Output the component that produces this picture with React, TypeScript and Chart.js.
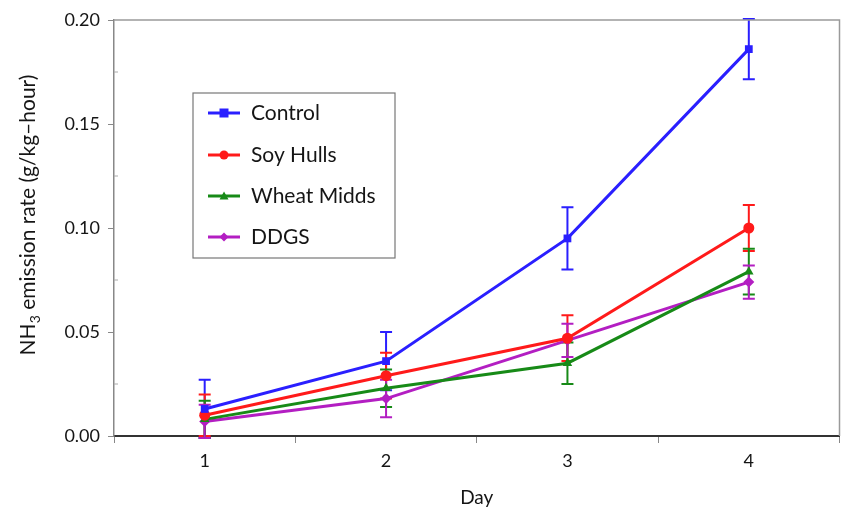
import React, { useEffect, useRef } from 'react';
import { Chart, registerables } from 'chart.js';

Chart.register(...registerables);

const days = ['1', '2', '3', '4'];
const seriesNames = ['Control', 'Soy Hulls', 'Wheat Midds', 'DDGS'];
const control = [0.013, 0.036, 0.095, 0.186];
const controlErr = [0.014, 0.014, 0.015, 0.0145];
const soyHulls = [0.010, 0.029, 0.047, 0.100];
const soyHullsErr = [0.010, 0.011, 0.011, 0.011];
const wheatMidds = [0.008, 0.023, 0.035, 0.079];
const wheatMiddsErr = [0.009, 0.009, 0.010, 0.011];
const ddgs = [0.007, 0.018, 0.046, 0.074];
const ddgsErr = [0.008, 0.009, 0.008, 0.008];
const yTicks = [0, 0.05, 0.1, 0.15, 0.2];
const yMinorTicks = [0.025, 0.075, 0.125, 0.175];
const yTitleMain = 'NH';
const yTitleSub = '3';
const yTitleRest = ' emission rate (g/kg–hour)';
const xTitle = 'Day';

const colors = ['#2a1fff', '#ff1a1a', '#178a17', '#b31ec2'];
const shapes = ['rect', 'circle', 'triangle', 'rectRot'];

const FONT = 'Lato, "Open Sans", "DejaVu Sans", sans-serif';
const TEXT = '#151515';

function drawMarker(ctx: CanvasRenderingContext2D, shape: string, x: number, y: number, r: number) {
  ctx.beginPath();
  if (shape === 'rect') {
    ctx.rect(x - r, y - r, 2 * r, 2 * r);
  } else if (shape === 'circle') {
    ctx.arc(x, y, r, 0, Math.PI * 2);
  } else if (shape === 'triangle') {
    ctx.moveTo(x, y - r);
    ctx.lineTo(x + r, y + r * 0.8);
    ctx.lineTo(x - r, y + r * 0.8);
    ctx.closePath();
  } else {
    ctx.moveTo(x, y - r);
    ctx.lineTo(x + r, y);
    ctx.lineTo(x, y + r);
    ctx.lineTo(x - r, y);
    ctx.closePath();
  }
  ctx.fill();
}

const errorBarsPlugin = {
  id: 'errorBars',
  beforeDatasetsDraw(chart: any) {
    const ctx = chart.ctx;
    const yScale = chart.scales.y;
    chart.data.datasets.forEach((ds: any, i: number) => {
      const meta = chart.getDatasetMeta(i);
      ctx.save();
      ctx.strokeStyle = ds.borderColor;
      ctx.lineWidth = 2;
      meta.data.forEach((pt: any, j: number) => {
        const v = ds.data[j];
        const e = ds.errors[j];
        const yTop = yScale.getPixelForValue(v + e);
        const yBot = yScale.getPixelForValue(v - e);
        const x = pt.x;
        ctx.beginPath();
        ctx.moveTo(x, yTop);
        ctx.lineTo(x, yBot);
        ctx.moveTo(x - 6, yTop);
        ctx.lineTo(x + 6, yTop);
        ctx.moveTo(x - 6, yBot);
        ctx.lineTo(x + 6, yBot);
        ctx.stroke();
      });
      ctx.restore();
    });
  },
};

const framePlugin = {
  id: 'frame',
  afterDraw(chart: any) {
    const ctx = chart.ctx;
    const a = chart.chartArea;
    const yScale = chart.scales.y;
    ctx.save();
    ctx.strokeStyle = '#9a9a9a';
    ctx.lineWidth = 1.5;
    ctx.beginPath();
    ctx.moveTo(a.left, a.top);
    ctx.lineTo(a.right, a.top);
    ctx.lineTo(a.right, a.bottom);
    ctx.stroke();

    // minor y ticks (inside)
    ctx.strokeStyle = '#aaa';
    ctx.lineWidth = 1;
    yMinorTicks.forEach((v) => {
      const y = yScale.getPixelForValue(v);
      ctx.beginPath();
      ctx.moveTo(a.left, y);
      ctx.lineTo(a.left + 4, y);
      ctx.stroke();
    });

    // y title with subscript
    ctx.fillStyle = TEXT;
    ctx.textBaseline = 'alphabetic';
    ctx.textAlign = 'left';
    const big = '21px ' + FONT;
    const small = '14px ' + FONT;
    ctx.font = big;
    const w1 = ctx.measureText(yTitleMain).width;
    const w3 = ctx.measureText(yTitleRest).width;
    ctx.font = small;
    const w2 = ctx.measureText(yTitleSub).width;
    const total = w1 + w2 + w3;
    ctx.translate(35, 215);
    ctx.rotate(-Math.PI / 2);
    let x0 = -total / 2;
    ctx.font = big;
    ctx.fillText(yTitleMain, x0, 0);
    x0 += w1;
    ctx.font = small;
    ctx.fillText(yTitleSub, x0, 5);
    x0 += w2;
    ctx.font = big;
    ctx.fillText(yTitleRest, x0, 0);
    ctx.setTransform(1, 0, 0, 1, 0, 0);

    // legend box
    const bx = 193, by = 93, bw = 202, bh = 165;
    ctx.strokeStyle = '#777';
    ctx.lineWidth = 1.2;
    ctx.fillStyle = '#fff';
    ctx.fillRect(bx, by, bw, bh);
    ctx.strokeRect(bx, by, bw, bh);
    const rows = [113, 155, 196, 237];
    chart.data.datasets.forEach((ds: any, i: number) => {
      const y = rows[i];
      ctx.strokeStyle = ds.borderColor;
      ctx.fillStyle = ds.borderColor;
      ctx.lineWidth = 3;
      ctx.beginPath();
      ctx.moveTo(208, y);
      ctx.lineTo(240, y);
      ctx.stroke();
      drawMarker(ctx, shapes[i], 224, y, 4.5);
      ctx.fillStyle = TEXT;
      ctx.font = '21px ' + FONT;
      ctx.textAlign = 'left';
      ctx.textBaseline = 'middle';
      ctx.fillText(ds.label, 251, y);
    });
    ctx.restore();
  },
};

export default function App() {
  const ref = useRef<HTMLCanvasElement>(null);
  useEffect(() => {
    document.body.style.margin = '0';
    document.body.style.background = '#fff';
    const values = [control, soyHulls, wheatMidds, ddgs];
    const errs = [controlErr, soyHullsErr, wheatMiddsErr, ddgsErr];
    const chart = new Chart(ref.current as HTMLCanvasElement, {
      type: 'line',
      data: {
        labels: days,
        datasets: seriesNames.map((name, i) => ({
          label: name,
          data: values[i],
          errors: errs[i],
          borderColor: colors[i],
          backgroundColor: colors[i],
          borderWidth: 3,
          pointStyle: shapes[i],
          pointRadius: 5.5,
          pointBorderWidth: 0,
          tension: 0,
          clip: false,
        })) as any,
      },
      options: {
        animation: false,
        responsive: false,
        layout: { padding: { top: 20, right: 5, left: 0, bottom: 0 } },
        plugins: { legend: { display: false }, tooltip: { enabled: false } },
        scales: {
          x: {
            type: 'category',
            offset: true,
            grid: {
              display: true,
              offset: true,
              drawOnChartArea: false,
              drawTicks: true,
              tickLength: 7,
              color: '#888',
            },
            border: { color: '#333', width: 2 },
            ticks: { color: TEXT, font: { family: FONT, size: 18 }, padding: 7 },
            title: {
              display: true,
              text: xTitle,
              color: TEXT,
              font: { family: FONT, size: 19 },
              padding: { top: 0, bottom: 3 },
            },
            afterFit(s: any) { s.height = 76; },
          },
          y: {
            min: 0,
            max: 0.2,
            afterBuildTicks(s: any) {
              s.ticks = yTicks.map((v) => ({ value: v }));
            },
            grid: {
              display: true,
              drawOnChartArea: false,
              drawTicks: true,
              tickLength: 6,
              color: '#888',
            },
            border: { color: '#888', width: 1.5 },
            ticks: {
              color: TEXT,
              font: { family: FONT, size: 18 },
              padding: 8,
              callback: (v: any) => Number(v).toFixed(2),
            },
            afterFit(s: any) { s.width = 114; },
          },
        },
      },
      plugins: [errorBarsPlugin, framePlugin],
    } as any);
    return () => chart.destroy();
  }, []);
  return <canvas ref={ref} width={845} height={512} style={{ display: 'block' }} />;
}
